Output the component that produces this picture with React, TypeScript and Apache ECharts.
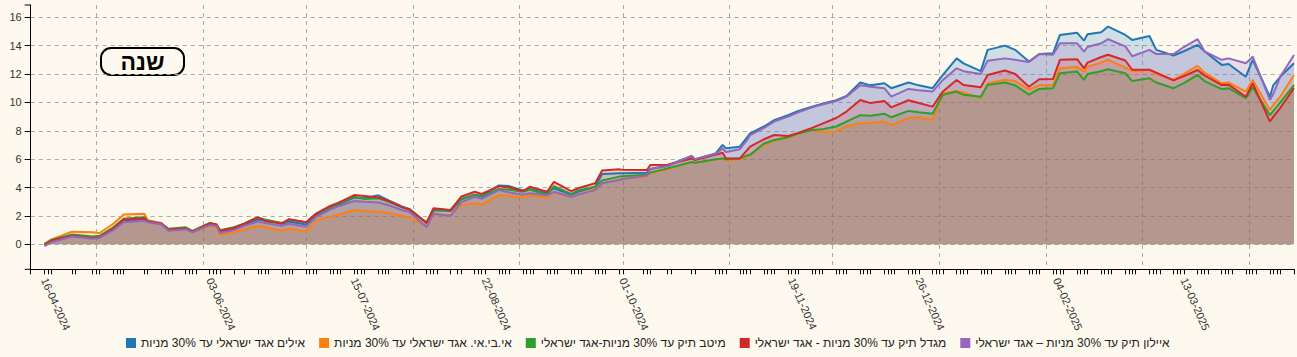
import React, { useEffect, useRef } from "react";
import * as echarts from "echarts";

const seriesNames = [
  "אילים אגד ישראלי עד 30% מניות",
  "אי.בי.אי. אגד ישראלי עד 30% מניות",
  "מיטב תיק עד 30% מניות-אגד ישראלי",
  "מגדל תיק עד 30% מניות - אגד ישראלי",
  "איילון תיק עד 30% מניות – אגד ישראלי",
];
const seriesColors = ["#1f77b4", "#ff7f0e", "#2ca02c", "#d62728", "#9467bd"];

const dates = [
  "2024-04-16","2024-04-18","2024-04-24","2024-04-30","2024-05-02","2024-05-06","2024-05-09","2024-05-15","2024-05-16","2024-05-20",
  "2024-05-22","2024-05-27","2024-05-29","2024-06-03","2024-06-05","2024-06-06","2024-06-10","2024-06-13","2024-06-17","2024-06-19",
  "2024-06-24","2024-06-26","2024-07-01","2024-07-04","2024-07-08","2024-07-10","2024-07-15","2024-07-18","2024-07-22","2024-07-25",
  "2024-07-29","2024-07-31","2024-08-05","2024-08-07","2024-08-12","2024-08-15","2024-08-19","2024-08-21","2024-08-26","2024-08-29",
  "2024-09-02","2024-09-04","2024-09-09","2024-09-11","2024-09-16","2024-09-18","2024-09-23","2024-09-25","2024-09-30","2024-10-01",
  "2024-10-08","2024-10-09","2024-10-14","2024-10-21","2024-10-22","2024-10-28","2024-10-30","2024-10-31","2024-11-04","2024-11-06",
  "2024-11-07","2024-11-11","2024-11-14","2024-11-18","2024-11-21","2024-11-25","2024-11-28","2024-12-02","2024-12-05","2024-12-09",
  "2024-12-12","2024-12-16","2024-12-18","2024-12-23","2024-12-26","2024-12-30","2025-01-02","2025-01-06","2025-01-08","2025-01-13",
  "2025-01-15","2025-01-20","2025-01-23","2025-01-27","2025-01-30","2025-02-03","2025-02-05","2025-02-10","2025-02-12","2025-02-13",
  "2025-02-17","2025-02-19","2025-02-24","2025-02-26","2025-03-03","2025-03-05","2025-03-10","2025-03-13","2025-03-17","2025-03-19",
  "2025-03-24","2025-03-26","2025-03-31","2025-04-02","2025-04-07","2025-04-08","2025-04-10","2025-04-14",
];

// אילים (blue)
const ayalim = [
  0, 0.25, 0.65, 0.5, 0.55, 1.1, 1.7, 1.75, 1.6, 1.45,
  1.05, 1.15, 0.9, 1.45, 1.35, 0.85, 1.1, 1.35, 1.75, 1.7,
  1.45, 1.6, 1.4, 2.05, 2.55, 2.75, 3.3, 3.25, 3.45, 3.1,
  2.65, 2.5, 1.5, 2.4, 2.35, 3.15, 3.5, 3.4, 4.15, 4.1,
  3.8, 3.9, 3.6, 3.95, 3.5, 3.7, 4.05, 4.95, 5.0, 5.0,
  5.05, 5.3, 5.55, 6.22, 6.0, 6.4, 7.0, 6.76, 6.88, 7.5,
  7.82, 8.3, 8.75, 9.1, 9.4, 9.7, 9.9, 10.15, 10.45, 11.4,
  11.2, 11.35, 11.0, 11.4, 11.2, 11.0, 11.93, 13.1, 12.75, 12.2,
  13.7, 14.0, 13.7, 12.88, 13.4, 13.46, 14.75, 14.9, 14.35, 14.8,
  14.94, 15.34, 14.75, 14.4, 14.68, 13.7, 13.3, 13.6, 14.05, 13.6,
  12.64, 12.7, 11.81, 12.99, 10.4, 11.22, 11.8, 12.75,
];
// אי.בי.אי. (orange)
const ibi = [
  0.05, 0.35, 0.89, 0.85, 0.8, 1.45, 2.1, 2.15, 1.7, 1.5,
  1.0, 1.1, 0.85, 1.3, 1.2, 0.65, 0.85, 1.05, 1.3, 1.2,
  0.95, 1.1, 0.9, 1.7, 1.95, 2.07, 2.42, 2.35, 2.3, 2.2,
  2.0, 1.9, 1.3, 2.1, 2.05, 2.77, 2.89, 2.8, 3.47, 3.4,
  3.3, 3.45, 3.3, 3.65, 3.35, 3.5, 3.9, 4.3, 4.55, 4.6,
  4.8, 5.0, 5.3, 5.8, 5.75, 5.95, 6.05, 5.93, 6.0, 6.2,
  6.3, 7.0, 7.3, 7.5, 7.8, 8.05, 7.9, 7.95, 8.3, 8.53,
  8.55, 8.65, 8.4, 8.9, 8.95, 8.76, 10.64, 10.8, 10.7, 10.3,
  11.34, 11.6, 11.5, 10.9, 11.2, 11.22, 12.4, 12.5, 12.17, 12.5,
  12.8, 13.0, 12.45, 12.2, 12.3, 12.0, 11.6, 12.0, 12.57, 12.1,
  11.34, 11.4, 10.76, 11.58, 9.47, 9.8, 10.4, 11.93,
];
// מיטב (green)
const meitav = [
  0, 0.3, 0.7, 0.55, 0.6, 1.2, 1.8, 1.9, 1.65, 1.45,
  1.1, 1.2, 0.95, 1.5, 1.4, 1.0, 1.2, 1.45, 1.9, 1.75,
  1.5, 1.75, 1.55, 2.15, 2.6, 2.8, 3.35, 3.2, 3.25, 3.0,
  2.6, 2.45, 1.55, 2.45, 2.4, 3.2, 3.5, 3.35, 3.9, 3.85,
  3.7, 3.85, 3.5, 4.1, 3.55, 3.8, 4.05, 4.5, 4.77, 4.8,
  4.9, 5.05, 5.35, 5.8, 5.75, 6.0, 6.05, 6.0, 6.05, 6.25,
  6.3, 7.1, 7.35, 7.55, 7.8, 8.05, 8.1, 8.3, 8.65, 9.1,
  9.05, 9.2, 8.95, 9.4, 9.3, 9.2, 10.53, 10.76, 10.53, 10.4,
  11.22, 11.4, 11.2, 10.55, 10.95, 11.0, 12.05, 12.17, 11.58, 12.0,
  12.2, 12.33, 12.05, 11.5, 11.7, 11.4, 11.0, 11.35, 11.93, 11.5,
  10.93, 11.0, 10.3, 11.06, 9.1, 9.4, 10.0, 11.22,
];
// מגדל (red)
const migdal = [
  -0.05, 0.25, 0.6, 0.42, 0.5, 1.1, 1.75, 1.83, 1.6, 1.45,
  1.05, 1.13, 0.89, 1.48, 1.4, 0.95, 1.15, 1.45, 1.9, 1.65,
  1.48, 1.76, 1.55, 2.18, 2.7, 2.89, 3.47, 3.4, 3.3, 3.05,
  2.6, 2.45, 1.5, 2.54, 2.42, 3.35, 3.7, 3.55, 4.1, 4.0,
  3.75, 4.05, 3.7, 4.4, 3.75, 3.95, 4.3, 5.2, 5.28, 5.25,
  5.23, 5.59, 5.6, 6.05, 5.93, 6.3, 6.45, 6.05, 6.05, 6.6,
  6.88, 7.4, 7.7, 7.63, 7.85, 8.2, 8.5, 8.9, 9.35, 10.17,
  9.95, 10.1, 9.65, 10.15, 9.95, 9.7, 10.76, 11.58, 11.22, 11.06,
  11.93, 12.25, 12.0, 11.1, 11.63, 11.65, 13.0, 13.04, 12.4, 12.8,
  13.2, 13.35, 12.95, 12.3, 12.3, 12.1, 11.55, 11.85, 12.28, 11.9,
  11.22, 11.25, 10.4, 11.34, 8.65, 9.0, 9.6, 11.0,
];
// איילון (purple)
const ayalon = [
  -0.12, 0.15, 0.55, 0.4, 0.45, 1.0, 1.55, 1.66, 1.55, 1.4,
  0.95, 1.05, 0.85, 1.35, 1.3, 0.8, 1.0, 1.3, 1.6, 1.5,
  1.3, 1.45, 1.24, 1.95, 2.45, 2.65, 3.05, 3.0, 2.95, 2.75,
  2.4, 2.3, 1.2, 2.15, 2.0, 2.95, 3.35, 3.2, 3.82, 3.65,
  3.5, 3.6, 3.45, 3.7, 3.35, 3.5, 3.82, 4.3, 4.53, 4.6,
  4.85, 5.3, 5.5, 6.22, 6.0, 6.36, 6.76, 6.5, 6.7, 7.3,
  7.7, 8.2, 8.65, 9.0, 9.3, 9.65, 9.85, 10.1, 10.4, 11.2,
  11.1, 11.0, 10.4, 10.95, 10.85, 10.76, 11.58, 12.4, 12.2, 12.0,
  12.94, 13.1, 13.0, 12.85, 13.4, 13.35, 14.16, 14.16, 13.58, 13.9,
  14.16, 14.45, 13.95, 13.25, 13.7, 13.4, 13.4, 13.9, 14.45, 13.6,
  13.0, 13.1, 12.76, 13.22, 10.17, 10.6, 11.8, 13.34,
];

const seriesValues = [ayalim, ibi, meitav, migdal, ayalon];

const yTickValues = [0, 2, 4, 6, 8, 10, 12, 14, 16];
const labelDates = [
  "2024-04-16", "2024-06-03", "2024-07-15", "2024-08-22", "2024-10-01",
  "2024-11-19", "2024-12-26", "2025-02-04", "2025-03-13",
];
const holidays = [
  "2024-04-22", "2024-04-23", "2024-04-29", "2024-05-13", "2024-05-14",
  "2024-06-11", "2024-06-12", "2024-08-13", "2024-10-02", "2024-10-03",
  "2024-10-10", "2024-10-16", "2024-10-17", "2024-10-23", "2024-10-24",
];
const axisStart = "2024-04-12";
const axisEnd = "2025-04-14";
const yMin = -1.76;
const yMax = 16.86;

function buildCalendar(start: string, end: string): string[] {
  const out: string[] = [];
  const d = new Date(start + "T00:00:00Z");
  const e = new Date(end + "T00:00:00Z");
  while (d.getTime() <= e.getTime()) {
    out.push(d.toISOString().slice(0, 10));
    d.setUTCDate(d.getUTCDate() + 1);
  }
  return out;
}

function isTradingDay(s: string): boolean {
  if (s < dates[0]) return false;
  const dow = new Date(s + "T00:00:00Z").getUTCDay();
  if (dow < 1 || dow > 4) return false;
  return holidays.indexOf(s) < 0;
}

function fmtDate(s: string): string {
  const [y, m, d] = s.split("-");
  return `${d}-${m}-${y}`;
}

const FONT = "Arial, 'Liberation Sans', sans-serif";
const BG = "#fdf9ef";

export default function App() {
  const ref = useRef<HTMLDivElement>(null);
  useEffect(() => {
    if (!ref.current) return;
    const chart = echarts.init(ref.current, undefined, { renderer: "svg" });
    const calendar = buildCalendar(axisStart, axisEnd);
    const lastIdx = calendar.length - 1;

    const series: any[] = seriesNames.map((name, i) => ({
      name,
      type: "line",
      data: dates.map((d, j) => [d, seriesValues[i][j]]),
      symbol: "none",
      lineStyle: { width: 2, color: seriesColors[i] },
      itemStyle: { color: seriesColors[i] },
      areaStyle: { color: seriesColors[i], opacity: 0.2 },
    }));

    chart.setOption({
      animation: false,
      backgroundColor: BG,
      textStyle: { fontFamily: FONT },
      grid: { left: 30.7, right: 3, top: 5, bottom: 87.7, containLabel: false },
      legend: {
        data: seriesNames,
        left: 121,
        top: 332,
        icon: "rect",
        itemWidth: 10,
        itemHeight: 10,
        itemGap: 14,
        textStyle: { fontSize: 12, color: "#222", fontFamily: FONT },
      },
      xAxis: {
        type: "category",
        data: calendar,
        boundaryGap: false,
        axisLine: { onZero: false, lineStyle: { color: "#000", width: 1 } },
        axisTick: {
          show: true,
          length: 5,
          lineStyle: { color: "#000" },
          interval: (idx: number, val: string) => idx === 0 || idx === lastIdx || isTradingDay(val),
        },
        axisLabel: {
          interval: (_idx: number, val: string) => labelDates.indexOf(val) >= 0,
          formatter: (val: string) => fmtDate(val),
          rotate: -66,
          margin: 9,
          fontSize: 11,
          color: "#333",
          fontFamily: FONT,
        },
        splitLine: {
          show: true,
          interval: (_idx: number, val: string) => val.slice(8) === "01",
          lineStyle: { color: "#aaa", type: [4, 4], width: 1 },
        },
      },
      yAxis: {
        type: "value",
        min: yMin,
        max: yMax,
        axisLine: { show: true, lineStyle: { color: "#000", width: 1 } },
        axisTick: { show: true, length: 6, customValues: yTickValues, lineStyle: { color: "#000" } },
        axisLabel: { customValues: yTickValues, fontSize: 11, color: "#333", margin: 9, fontFamily: FONT },
        splitLine: { show: true, lineStyle: { color: "#aaa", type: [4, 4], width: 1 } },
      },
      graphic: [
        {
          type: "group",
          left: 100,
          top: 47,
          children: [
            {
              type: "rect",
              shape: { x: 0, y: 0, width: 83, height: 27, r: 10 },
              style: { fill: BG, stroke: "#000", lineWidth: 2 },
            },
            {
              type: "text",
              x: 41.5,
              y: 14,
              style: {
                text: "שנה",
                fontSize: 23,
                fontWeight: "bold",
                fontFamily: FONT,
                fill: "#000",
                align: "center",
                verticalAlign: "middle",
              },
            },
          ],
        },
        { type: "line", shape: { x1: 24.7, y1: 5, x2: 30.7, y2: 5 }, style: { stroke: "#000", lineWidth: 1 } },
        { type: "line", shape: { x1: 24.7, y1: 269.3, x2: 30.7, y2: 269.3 }, style: { stroke: "#000", lineWidth: 1 } },
      ],
      series,
    });
    return () => chart.dispose();
  }, []);

  return (
    <div
      ref={ref}
      style={{ position: "absolute", left: 0, top: 0, width: 1297, height: 357, background: BG }}
    />
  );
}
